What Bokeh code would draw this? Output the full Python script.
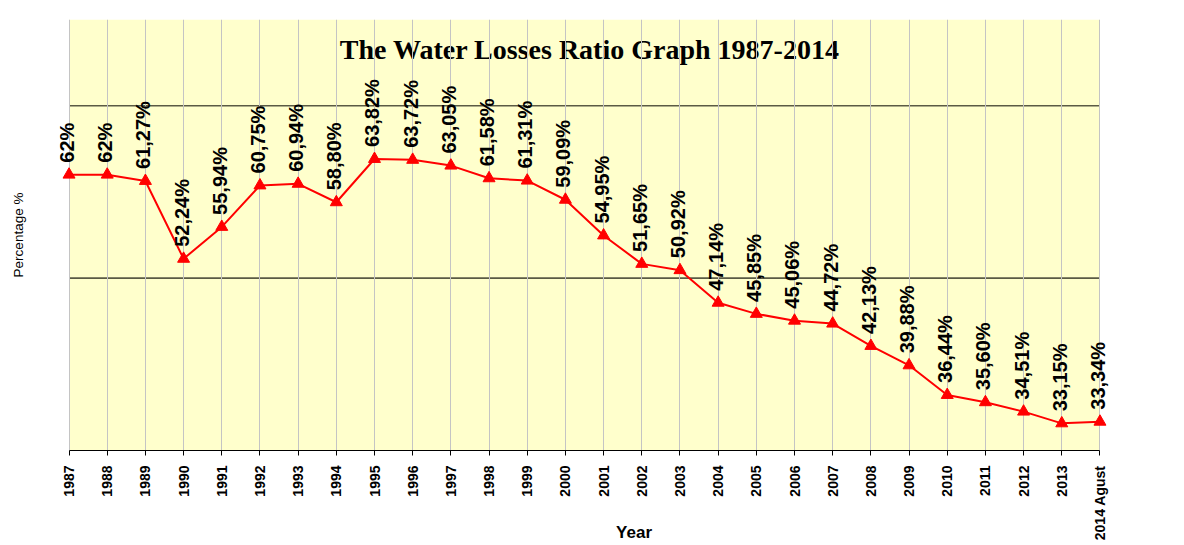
import math
from bokeh.plotting import figure
from bokeh.models import ColumnDataSource, LabelSet, Label, FixedTicker, BoxAnnotation
from bokeh.core.properties import value
from bokeh.embed import file_html
from bokeh.resources import INLINE

# ---- data ----
years = [1987, 1988, 1989, 1990, 1991, 1992, 1993, 1994, 1995, 1996, 1997, 1998, 1999, 2000,
         2001, 2002, 2003, 2004, 2005, 2006, 2007, 2008, 2009, 2010, 2011, 2012, 2013, 2014]
loss_pct = [62.00, 62.00, 61.27, 52.24, 55.94, 60.75, 60.94, 58.80, 63.82, 63.72, 63.05, 61.58,
            61.31, 59.09, 54.95, 51.65, 50.92, 47.14, 45.85, 45.06, 44.72, 42.13, 39.88, 36.44,
            35.60, 34.51, 33.15, 33.34]
point_labels = ["62%", "62%", "61,27%", "52,24%", "55,94%", "60,75%", "60,94%", "58,80%",
                "63,82%", "63,72%", "63,05%", "61,58%", "61,31%", "59,09%", "54,95%", "51,65%",
                "50,92%", "47,14%", "45,85%", "45,06%", "44,72%", "42,13%", "39,88%", "36,44%",
                "35,60%", "34,51%", "33,15%", "33,34%"]
tick_labels = ["1987", "1988", "1989", "1990", "1991", "1992", "1993", "1994", "1995", "1996",
               "1997", "1998", "1999", "2000", "2001", "2002", "2003", "2004", "2005", "2006",
               "2007", "2008", "2009", "2010", "2011", "2012", "2013", "2014 Agust"]
gridline_values = [50, 70]
y_min, y_max = 30, 80

title_text = "The Water Losses Ratio Graph 1987-2014"
x_title = "Year"
y_title = "Percentage %"

src = ColumnDataSource(data=dict(year=years, loss=loss_pct, label=point_labels))

p = figure(width=1184, height=545,
           x_range=(years[0] - 0.25, years[-1] + 0.25), y_range=(y_min, y_max),
           output_backend="svg", toolbar_location=None,
           min_border_left=59, min_border_right=75, min_border_top=19, min_border_bottom=95,
           background_fill_color="white", border_fill_color="white", outline_line_color=None)

# plot area background
p.add_layout(BoxAnnotation(left=years[0], right=years[-1], bottom=y_min, top=y_max,
                           fill_color="#FFFFCC", fill_alpha=1.0, line_color=None, level="image"))

# title inside plot area (behind grid lines)
p.add_layout(Label(x=2000.64, y=76.5, text=title_text, text_font="Liberation Serif",
                   text_font_style="bold", text_font_size="28px", text_color="black",
                   text_align="center", text_baseline="middle", level="image"))

# grids
p.ygrid.visible = False
p.xgrid.ticker = FixedTicker(ticks=years)
p.xgrid.grid_line_color = "#c4c4c4"
p.xgrid.grid_line_width = 1

p.segment(x0=[years[0]] * len(gridline_values), x1=[years[-1]] * len(gridline_values),
          y0=gridline_values, y1=gridline_values, line_color="#5a5a44", line_width=1.6,
          level="underlay")

# series
p.line(x="year", y="loss", source=src, line_color="red", line_width=2)
p.scatter(x="year", y="loss", source=src, marker="triangle", size=12,
          fill_color="red", line_color="red")

p.add_layout(LabelSet(x="year", y="loss", text="label", source=src, angle=math.pi / 2,
                      text_align="left", text_baseline="middle", x_offset=-2, y_offset=12,
                      text_font=value("Liberation Sans"), text_font_style="bold",
                      text_font_size="20px", text_color="black"))

# x axis
xa = p.xaxis[0]
xa.ticker = FixedTicker(ticks=years)
xa.major_label_overrides = {y: lab for y, lab in zip(years, tick_labels)}
xa.major_label_orientation = math.pi / 2
xa.major_label_text_font = "Liberation Sans"
xa.major_label_text_font_style = "bold"
xa.major_label_text_font_size = "14px"
xa.major_label_text_color = "black"
xa.major_label_standoff = 10
xa.axis_line_color = "black"
xa.axis_line_width = 1.2
xa.major_tick_line_color = "black"
xa.major_tick_out = 5
xa.major_tick_in = 0
xa.minor_tick_line_color = None
xa.bounds = (years[0], years[-1])
# label is shifted right of the frame centre (as in the original) with leading no-break spaces
xa.axis_label = "\u00a0" * 21 + x_title
xa.axis_label_text_font = "Liberation Sans"
xa.axis_label_text_font_style = "bold"
xa.axis_label_text_font_size = "17px"
xa.axis_label_text_color = "black"
xa.axis_label_standoff = -20

# y axis (only a title)
ya = p.yaxis[0]
ya.ticker = FixedTicker(ticks=[])
ya.axis_line_color = None
ya.major_tick_line_color = None
ya.minor_tick_line_color = None
ya.major_tick_out = 0
ya.major_label_standoff = 0
ya.axis_label = y_title
ya.axis_label_text_font = "Liberation Sans"
ya.axis_label_text_font_style = "normal"
ya.axis_label_text_font_size = "13.5px"
ya.axis_label_text_color = "black"
ya.axis_label_standoff = 34

open("out.html", "w").write(file_html(p, INLINE))
